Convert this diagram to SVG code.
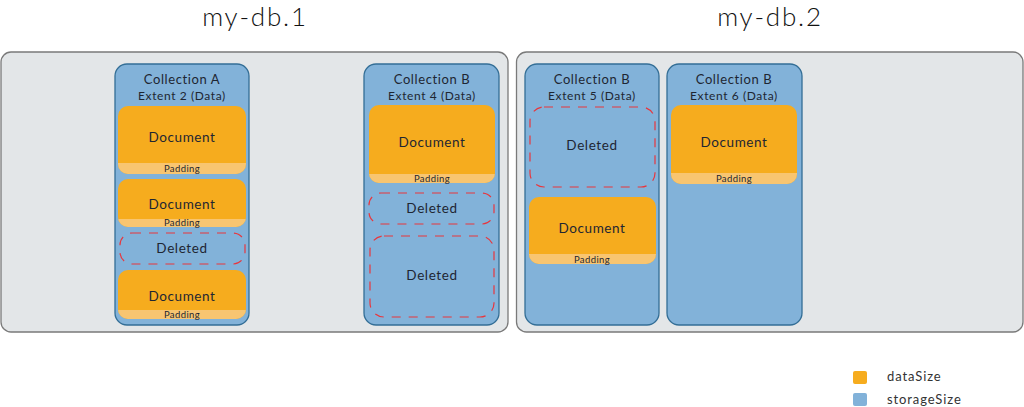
<svg xmlns="http://www.w3.org/2000/svg" width="1024" height="407" viewBox="0 0 1024 407">
<style>
text{font-family:Lato,"Open Sans","Liberation Sans",sans-serif;fill:#1e2632;text-anchor:middle;letter-spacing:0.6px}
.title{font-size:26px;font-weight:300;fill:#111;letter-spacing:1.8px}
.panel{fill:#e3e6e8;stroke:#7a7a7a;stroke-width:1.3}
.coll{fill:#82b2d9;stroke:#336e96;stroke-width:1.3}
.doc{fill:#f6ac1e}
.pad{fill:#f8c571}
.del{fill:none;stroke:#e8363d;stroke-width:1.2;stroke-dasharray:9 8}
.h1{font-size:13px}
.h2{font-size:12px}
.dt{font-size:13.5px}
.pt{font-size:9.5px;letter-spacing:0.4px}
.lg{font-size:13px;text-anchor:start;fill:#333;letter-spacing:0.9px}
</style>
<defs>
<clipPath id="cA1"><rect x="118" y="106" width="128" height="68" rx="10"/></clipPath>
<clipPath id="cA2"><rect x="118" y="179" width="128" height="48" rx="10"/></clipPath>
<clipPath id="cA3"><rect x="118" y="270" width="128" height="49" rx="10"/></clipPath>
<clipPath id="cB1"><rect x="369" y="105" width="126" height="78" rx="10"/></clipPath>
<clipPath id="cC1"><rect x="529" y="197" width="127" height="67" rx="10"/></clipPath>
<clipPath id="cD1"><rect x="671" y="105" width="126" height="79" rx="10"/></clipPath>
</defs>

<text class="title" x="255" y="26">my-db.1</text>
<text class="title" x="770" y="26">my-db.2</text>

<g id="db1"><rect class="panel" x="1" y="52" width="507" height="280" rx="10"/></g>
<g id="db2"><rect class="panel" x="516.5" y="52" width="506.5" height="280" rx="10"/></g>

<g id="extent2">
<rect class="coll" x="115" y="64" width="134" height="261" rx="12"/>
<text class="h1" x="182" y="84">Collection A</text>
<text class="h2" x="182" y="100">Extent 2 (Data)</text>
<g clip-path="url(#cA1)"><rect class="doc" x="118" y="106" width="128" height="68"/><rect class="pad" x="118" y="163" width="128" height="11"/></g>
<text class="dt" x="182" y="142">Document</text>
<text class="pt" x="182" y="172">Padding</text>
<g clip-path="url(#cA2)"><rect class="doc" x="118" y="179" width="128" height="48"/><rect class="pad" x="118" y="219" width="128" height="8"/></g>
<text class="dt" x="182" y="209">Document</text>
<text class="pt" x="182" y="226">Padding</text>
<rect class="del" x="120" y="233" width="125" height="31" rx="12"/>
<text class="dt" x="182" y="253">Deleted</text>
<g clip-path="url(#cA3)"><rect class="doc" x="118" y="270" width="128" height="49"/><rect class="pad" x="118" y="310" width="128" height="9"/></g>
<text class="dt" x="182" y="301">Document</text>
<text class="pt" x="182" y="318">Padding</text>
</g>

<g id="extent4">
<rect class="coll" x="364" y="64" width="135" height="261" rx="12"/>
<text class="h1" x="432" y="84">Collection B</text>
<text class="h2" x="432" y="100">Extent 4 (Data)</text>
<g clip-path="url(#cB1)"><rect class="doc" x="369" y="105" width="126" height="78"/><rect class="pad" x="369" y="174" width="126" height="9"/></g>
<text class="dt" x="432" y="147">Document</text>
<text class="pt" x="432" y="182">Padding</text>
<rect class="del" x="369" y="193" width="125" height="31" rx="12"/>
<text class="dt" x="432" y="213">Deleted</text>
<rect class="del" x="370" y="236" width="124" height="81" rx="14"/>
<text class="dt" x="432" y="280">Deleted</text>
</g>

<g id="extent5">
<rect class="coll" x="525" y="64" width="134" height="261" rx="12"/>
<text class="h1" x="592" y="84">Collection B</text>
<text class="h2" x="592" y="100">Extent 5 (Data)</text>
<rect class="del" x="530" y="107" width="125" height="80" rx="14"/>
<text class="dt" x="592" y="150">Deleted</text>
<g clip-path="url(#cC1)"><rect class="doc" x="529" y="197" width="127" height="67"/><rect class="pad" x="529" y="254" width="127" height="10"/></g>
<text class="dt" x="592" y="233">Document</text>
<text class="pt" x="592" y="263">Padding</text>
</g>

<g id="extent6">
<rect class="coll" x="667" y="64" width="135" height="261" rx="12"/>
<text class="h1" x="734" y="84">Collection B</text>
<text class="h2" x="734" y="100">Extent 6 (Data)</text>
<g clip-path="url(#cD1)"><rect class="doc" x="671" y="105" width="126" height="79"/><rect class="pad" x="671" y="173" width="126" height="11"/></g>
<text class="dt" x="734" y="147">Document</text>
<text class="pt" x="734" y="182">Padding</text>
</g>

<g id="legend">
<rect x="853" y="371" width="14" height="13" rx="2" fill="#f6ac1e"/>
<text class="lg" x="887" y="381">dataSize</text>
<rect x="853" y="393" width="14" height="13" rx="2" fill="#82b2d9"/>
<text class="lg" x="887" y="404">storageSize</text>
</g>
<g id="connectors"/>
</svg>
